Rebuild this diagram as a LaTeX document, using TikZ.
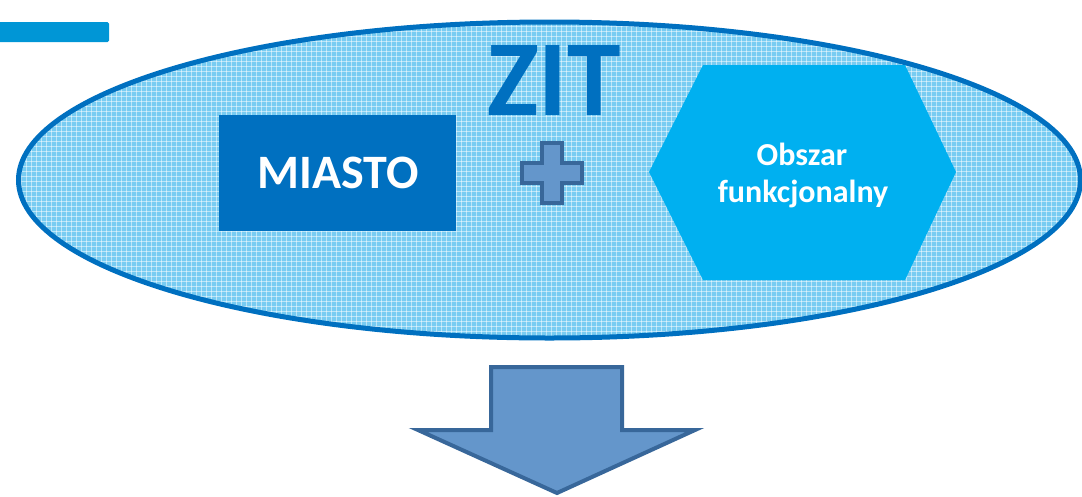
\documentclass[tikz,border=0pt]{standalone}
\usepackage{fontspec}
\setmainfont{Carlito}
\definecolor{darkblue}{RGB}{0,112,192}
\definecolor{barblue}{RGB}{0,150,214}
\definecolor{hexblue}{RGB}{0,176,240}
\definecolor{patbase}{RGB}{120,204,242}
\definecolor{arrfill}{RGB}{100,150,203}
\definecolor{arrline}{RGB}{56,103,154}
\tikzset{
  shapefill/.style={fill=arrfill, draw=arrline, line width=4pt, line join=miter},
  whitetext/.style={text=white, font=\bfseries, inner sep=0pt},
}
\begin{document}
\begin{tikzpicture}[x=1pt,y=-1pt]
\useasboundingbox (0,0) rectangle (1082,496);
% top-left bar
\fill[barblue, rounded corners=1.5pt] (-5,22) rectangle (109,42);
% ellipse with grid pattern
\begin{scope}
  \clip (549.5,180) ellipse [x radius=531, y radius=158];
  \fill[patbase] (0,0) rectangle (1082,496);
  \foreach \i in {0,5,...,1080} {
    \draw[white, opacity=0.5, line width=1pt] (\i+1,0) -- (\i+1,340);
  }
  \foreach \j in {20,25,...,340} {
    \draw[white, opacity=0.5, line width=1pt] (0,\j+1) -- (1082,\j+1);
  }
\end{scope}
\draw[darkblue, line width=5pt] (549.5,180) ellipse [x radius=531, y radius=158];
% ZIT
\node[anchor=base, text=darkblue, font=\fontsize{108}{108}\selectfont\bfseries, inner sep=0pt] (zit) at (554,115) {ZIT};
% MIASTO
\fill[darkblue] (219,115) rectangle (456,231);
\node[whitetext, anchor=base, font=\fontsize{48}{48}\selectfont\bfseries] (miasto) at (338,188) {MIASTO};
% plus
\draw[shapefill] (542,143) -- (562,143) -- (562,163) -- (582,163) -- (582,183) -- (562,183) -- (562,203) -- (542,203) -- (542,183) -- (522,183) -- (522,163) -- (542,163) -- cycle;
% hexagon
\fill[hexblue] (649,172) -- (703,65) -- (905,65) -- (956,172) -- (905,280) -- (703,280) -- cycle;
\node[whitetext, anchor=base, font=\fontsize{32}{32}\selectfont\bfseries] (obszar) at (802,165) {Obszar};
\node[whitetext, anchor=base, font=\fontsize{32}{32}\selectfont\bfseries] (funk) at (803,202) {funkcjonalny};
% big arrow
\draw[shapefill] (491,367) -- (622,367) -- (622,430) -- (695,430) -- (557,493) -- (418,430) -- (491,430) -- cycle;
\end{tikzpicture}
\end{document}
